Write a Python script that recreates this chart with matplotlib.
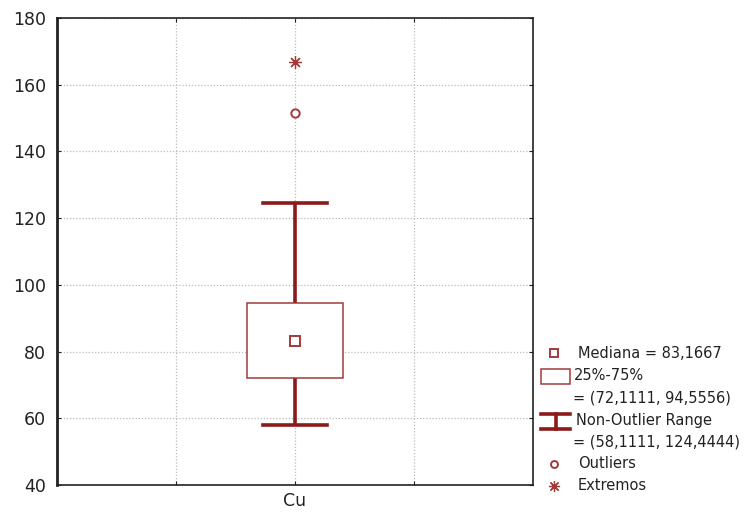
import matplotlib
matplotlib.use("Agg")
import matplotlib.pyplot as plt
from matplotlib.patches import Rectangle
from matplotlib.lines import Line2D

plt.rcParams["font.family"] = ["DejaVu Sans"]

# -- data ---------------------------------------------------------------------
categories = ["Cu"]
median = [83.1667]
q1 = [72.1111]
q3 = [94.5556]
whisk_lo = [58.1111]
whisk_hi = [124.4444]
outliers = [151.5]
extremes = [166.8]

DARK_RED = "#8B1A1A"
BOX_RED = "#A33A3A"
GRID = "#BBBBBB"
TXT = "#222222"

fig = plt.figure(figsize=(7.44, 5.14), dpi=100)
ax = fig.add_axes([0.0766, 0.0564, 0.6398, 0.9086])

xpos = [2]
box_half = 0.4
cap_half = 0.27

for x, m, lo_q, hi_q, lo_w, hi_w in zip(xpos, median, q1, q3, whisk_lo, whisk_hi):
    # whiskers
    ax.plot([x, x], [hi_q, hi_w], color=DARK_RED, lw=2.6, solid_capstyle="butt", zorder=3)
    ax.plot([x, x], [lo_w, lo_q], color=DARK_RED, lw=2.6, solid_capstyle="butt", zorder=3)
    ax.plot([x - cap_half, x + cap_half], [hi_w, hi_w], color=DARK_RED, lw=2.6, zorder=3)
    ax.plot([x - cap_half, x + cap_half], [lo_w, lo_w], color=DARK_RED, lw=2.6, zorder=3)
    # box
    ax.add_patch(Rectangle((x - box_half, lo_q), 2 * box_half, hi_q - lo_q,
                           facecolor="white", edgecolor=BOX_RED, lw=1.1, zorder=4))
    # median marker
    ax.plot([x], [m], marker="s", ms=7, mfc="white", mec=BOX_RED, mew=1.4, zorder=5)

ax.plot(xpos * len(outliers), outliers, ls="none", marker="o", ms=6,
        mfc="white", mec=BOX_RED, mew=1.4, zorder=5)
ax.plot(xpos * len(extremes), extremes, ls="none", marker=(8, 2, 0), ms=9,
        mec=BOX_RED, mew=0.9, zorder=5)

ax.set_xlim(0, 4)
ax.set_ylim(40, 180)
ax.set_yticks(range(40, 181, 20))
ax.set_xticks([1, 2, 3])
ax.set_xticklabels(["", categories[0], ""])
ax.grid(True, color=GRID, ls=(0, (1, 1.5)), lw=0.9)
ax.tick_params(axis="y", direction="in", length=3, labelsize=12.5, pad=8, colors=TXT,
               right=True)
ax.tick_params(axis="x", direction="in", length=3, labelsize=12.5, pad=5, colors=TXT,
               top=True)
for s in ax.spines.values():
    s.set_linewidth(1.2)
    s.set_color(TXT)
ax.spines["left"].set_linewidth(2)

# -- legend drawn in figure pixels ---------------------------------------------
W, H = 744, 514


def fx(px):
    return px / W


def fy(py):
    return 1 - py / H


fs = 10.5
fig.text(fx(578), fy(353), "Mediana = 83,1667", fontsize=fs, va="center", color=TXT)
fig.text(fx(574), fy(376), "25%-75%", fontsize=fs, va="center", color=TXT)
fig.text(fx(573), fy(398), "= (72,1111, 94,5556)", fontsize=fs, va="center", color=TXT)
fig.text(fx(576), fy(421), "Non-Outlier Range", fontsize=fs, va="center", color=TXT)
fig.text(fx(573), fy(442), "= (58,1111, 124,4444)", fontsize=fs, va="center", color=TXT)
fig.text(fx(578), fy(464), "Outliers", fontsize=fs, va="center", color=TXT)
fig.text(fx(578), fy(486), "Extremos", fontsize=fs, va="center", color=TXT)

fig.add_artist(Line2D([fx(554)], [fy(353)], marker="s", ms=6, mfc="white",
                      mec=BOX_RED, mew=1.4, ls="none"))
fig.add_artist(Rectangle((fx(541), fy(384)), fx(570) - fx(541), fy(369) - fy(384),
                         facecolor="white", edgecolor=BOX_RED, lw=1.1,
                         transform=fig.transFigure))
fig.add_artist(Line2D([fx(541), fx(570)], [fy(429), fy(429)], color=DARK_RED, lw=2.6))
fig.add_artist(Line2D([fx(541), fx(570)], [fy(414), fy(414)], color=DARK_RED, lw=2.6))
fig.add_artist(Line2D([fx(555.5), fx(555.5)], [fy(414), fy(429)], color=DARK_RED, lw=2.6))
fig.add_artist(Line2D([fx(554)], [fy(464)], marker="o", ms=5, mfc="white",
                      mec=BOX_RED, mew=1.4, ls="none"))
fig.add_artist(Line2D([fx(554)], [fy(486)], marker=(8, 2, 0), ms=8,
                      mec=BOX_RED, mew=0.9, ls="none"))

fig.savefig("out.png", dpi=100, facecolor="white")
